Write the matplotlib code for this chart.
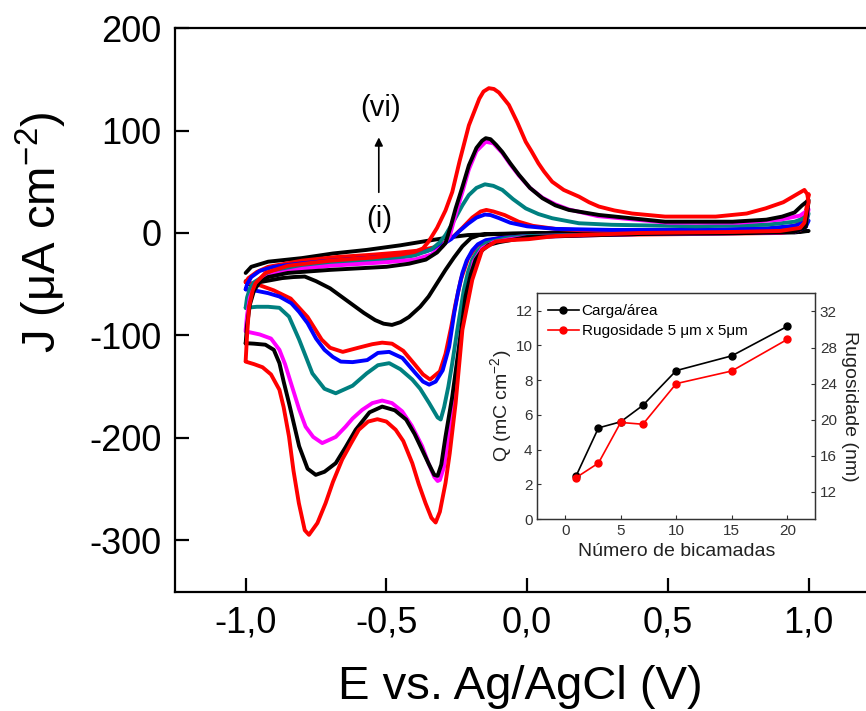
import numpy as np
import matplotlib
matplotlib.use("Agg")
import matplotlib.pyplot as plt

plt.rcParams['font.family'] = ['Liberation Sans', 'DejaVu Sans']
plt.rcParams['mathtext.fontset'] = 'custom'
plt.rcParams['mathtext.rm'] = 'Liberation Sans'
plt.rcParams['mathtext.it'] = 'Liberation Sans:italic'
plt.rcParams['mathtext.default'] = 'regular'
plt.rcParams['axes.unicode_minus'] = False

# --- voltametrias (E em V, J em uA cm-2), ramo anodico + catodico ---
# (i) preto pequeno
e_i = [-1.0, -0.98, -0.92, -0.8, -0.69, -0.57, -0.45, -0.34, -0.27, -0.21, -0.1, 0.2, 0.6, 0.9, 1.0,
       0.95, 0.6, 0.2, -0.05, -0.14, -0.17, -0.2, -0.23, -0.26, -0.29, -0.32, -0.35, -0.38, -0.42,
       -0.45, -0.48, -0.51, -0.54, -0.58, -0.61, -0.65, -0.7, -0.75, -0.79, -0.83, -0.87, -0.94, -0.99, -1.0]
j_i = [-39, -33, -28, -24.5, -20, -16.5, -12, -7, -4, -2, -1, 0, 0, 1, 2,
       0.5, 0, 0, -0.5, -1, -2, -5, -13, -24, -36, -49, -62, -72, -82,
       -87, -89.7, -88.5, -85, -78, -72, -64, -54, -47, -42.5, -43, -44, -47.5, -50, -47]

# (ii) vermelho pequeno
e_ii = [-1.0, -0.99, -0.96, -0.92, -0.8, -0.68, -0.56, -0.45, -0.38, -0.33, -0.29, -0.26, -0.23, -0.195,
        -0.165, -0.145, -0.12, -0.08, -0.03, 0.02, 0.1, 0.2, 0.4, 0.7, 0.9, 0.96, 0.99, 1.0,
        0.99, 0.97, 0.9, 0.6, 0.2, 0.0, -0.1, -0.15, -0.18, -0.21, -0.235, -0.255, -0.27, -0.29, -0.31,
        -0.345, -0.37, -0.4, -0.44, -0.48, -0.515, -0.55, -0.6, -0.655, -0.7, -0.73, -0.78, -0.84, -0.9, -0.95, -1.0]
j_ii = [-48, -44, -38, -33, -27, -23.5, -21.4, -19, -17, -14, -9, -3, 5, 15,
        21, 22.5, 21, 17.5, 11, 7, 4, 2.5, 2, 2, 4, 8, 20, 38,
        15, 3, 0, -1, -2, -3, -5, -8, -13, -25, -45, -70, -92, -118, -135,
        -143, -138, -128, -115, -108, -107, -108.5, -112, -116, -112, -104, -82, -64, -56, -51, -48]

# (iii) azul
e_iii = [-1.0, -0.995, -0.98, -0.95, -0.9, -0.8, -0.7, -0.6, -0.5, -0.42, -0.36, -0.31, -0.27, -0.24, -0.21,
         -0.18, -0.15, -0.13, -0.1, -0.06, 0.0, 0.1, 0.3, 0.6, 0.85, 0.95, 1.0,
         0.99, 0.95, 0.8, 0.4, 0.0, -0.1, -0.147, -0.175, -0.195, -0.215, -0.23, -0.245, -0.259, -0.277,
         -0.3, -0.325, -0.348, -0.37, -0.396, -0.443, -0.49, -0.53, -0.568, -0.62, -0.662, -0.69, -0.72,
         -0.75, -0.78, -0.81, -0.838, -0.88, -0.92, -0.96, -1.0]
j_iii = [-55, -50, -43, -37, -33, -29.5, -27, -25, -23, -21, -18, -13, -6, 2, 9,
         15, 18, 17.5, 14.5, 10, 6.5, 4, 3, 3, 4.5, 7, 12,
         6, 1, 0, -1, -3, -5, -7, -11, -17, -27, -39, -57, -78, -111,
         -134, -145, -148, -145, -137, -122, -116, -117, -124, -126, -125.5, -121, -114,
         -103, -88, -77, -68.5, -62, -58.7, -56.5, -55]

# (iv) verde-azulado
e_iv = [-1.0, -0.995, -0.985, -0.97, -0.93, -0.85, -0.7, -0.5, -0.4, -0.34, -0.31, -0.29, -0.26, -0.23,
        -0.207, -0.18, -0.15, -0.12, -0.088, -0.05, -0.005, 0.04, 0.089, 0.184, 0.3, 0.6, 0.85, 0.95, 0.98, 1.0,
        0.99, 0.95, 0.8, 0.4, 0.0, -0.076, -0.147, -0.175, -0.195, -0.21, -0.225, -0.248, -0.266, -0.28,
        -0.295, -0.307, -0.318, -0.348, -0.38, -0.408, -0.45, -0.49, -0.53, -0.57, -0.62, -0.68, -0.72,
        -0.763, -0.79, -0.81, -0.846, -0.88, -0.92, -0.96, -1.0]
j_iv = [-73, -63, -54, -48, -41, -35, -30, -26, -22, -16, -9, -2, 12, 27,
        37, 44, 47.5, 46, 42, 33, 24, 18.5, 14.4, 9.5, 8, 6.5, 8, 11, 14, 19,
        8, 2, 0, -1, -3, -5, -10, -17, -26, -38, -55.5, -94.5, -127, -150,
        -170, -182, -180, -166, -152, -143, -133, -127, -129, -137, -149, -156.4, -152,
        -137, -118, -104, -81.6, -73, -72, -72, -73]

# (v) magenta
e_v = [-1.0, -0.995, -0.985, -0.97, -0.94, -0.9, -0.8, -0.7, -0.5, -0.4, -0.34, -0.3, -0.275, -0.254,
       -0.23, -0.207, -0.18, -0.147, -0.12, -0.088, -0.06, -0.029, 0.01, 0.054, 0.1, 0.148, 0.25, 0.5,
       0.75, 0.9, 0.97, 1.0,
       0.99, 0.95, 0.8, 0.4, 0.0, -0.06, -0.12, -0.16, -0.19, -0.215, -0.24, -0.262, -0.28, -0.295,
       -0.31, -0.318, -0.33, -0.35, -0.373, -0.41, -0.444, -0.48, -0.515, -0.55, -0.586, -0.62, -0.645,
       -0.68, -0.728, -0.76, -0.787, -0.81, -0.835, -0.86, -0.88, -0.91, -0.95, -1.0]
j_v = [-95, -80, -63, -53, -45, -40, -35, -32, -28.5, -26, -21, -13, -3, 18,
       40, 62, 80, 89, 87.5, 78, 67, 56, 44, 34.5, 28, 23, 16.5, 10,
       10, 13, 17, 23,
       10, 1, 0, -1, -4, -6, -9, -15, -28, -60, -108, -158, -200, -228,
       -241, -242, -238, -225, -208, -188, -174, -166, -163.5, -166, -172.6, -181, -189,
       -199, -205, -199, -189, -172, -150, -128, -114, -103, -99, -96]

# (vi) preto grande
e_vi = [-1.0, -0.995, -0.985, -0.97, -0.95, -0.92, -0.85, -0.7, -0.5, -0.42, -0.36, -0.32, -0.29, -0.27,
        -0.254, -0.23, -0.207, -0.18, -0.16, -0.147, -0.13, -0.11, -0.088, -0.06, -0.029, 0.01, 0.054, 0.1,
        0.148, 0.255, 0.49, 0.73, 0.85, 0.906, 0.95, 0.977, 1.0,
        0.99, 0.95, 0.8, 0.4, 0.0, -0.053, -0.1, -0.136, -0.16, -0.183, -0.2, -0.219, -0.242, -0.266,
        -0.29, -0.305, -0.318, -0.33, -0.35, -0.373, -0.4, -0.43, -0.47, -0.515, -0.56, -0.609, -0.645,
        -0.68, -0.72, -0.751, -0.78, -0.81, -0.846, -0.865, -0.88, -0.9, -0.93, -0.97, -1.0]
j_vi = [-108, -90, -70, -56, -48, -43, -39, -36, -33, -30, -26, -19, -10, 8,
        24, 45, 66, 83, 90, 92.5, 91.5, 86, 79, 68, 56.7, 44, 34, 27,
        22.5, 17.6, 11, 11, 13, 16, 20, 27, 32,
        6, 1, 0, -1, -4, -6.7, -9, -11.6, -17, -26, -40, -62, -111, -159.6,
        -198.6, -226, -237, -236, -225, -211.6, -196, -182, -173, -169.4, -175, -192, -209,
        -224.6, -233, -236, -230, -208, -166, -145, -127, -114, -109, -108, -107.5]

# (vii) vermelho grande
e_vii = [-1.0, -0.995, -0.988, -0.975, -0.965, -0.93, -0.85, -0.7, -0.55, -0.45, -0.4, -0.37, -0.35, -0.32,
         -0.29, -0.266, -0.24, -0.207, -0.17, -0.155, -0.136, -0.118, -0.1, -0.065, -0.035, -0.005, 0.015,
         0.04, 0.06, 0.089, 0.13, 0.184, 0.22, 0.255, 0.31, 0.373, 0.49, 0.67, 0.78, 0.847, 0.91, 0.966,
         0.985, 0.995, 1.0,
         0.995, 0.985, 0.97, 0.9, 0.73, 0.4, 0.1, 0.006, -0.06, -0.112, -0.16, -0.195, -0.23, -0.254,
         -0.275, -0.29, -0.31, -0.325, -0.34, -0.361, -0.385, -0.408, -0.44, -0.467, -0.5, -0.532, -0.565,
         -0.598, -0.625, -0.657, -0.69, -0.716, -0.745, -0.775, -0.79, -0.811, -0.83, -0.846, -0.865, -0.88,
         -0.91, -0.94, -0.97, -1.0]
j_vii = [-125, -100, -72, -56, -49, -39, -32, -27, -24, -21, -18.5, -15, -8.4, 5,
         22, 40, 70, 105, 131, 138, 141.3, 140.5, 137, 125, 108, 89, 80,
         68, 60, 50, 42, 35.5, 30, 25.8, 22, 19, 16, 16, 19, 24, 30, 39,
         42, 38, 30,
         25, 10, 5, 2, 1, 0, -3, -6, -7, -8.4, -16.5, -45.8, -94.5, -166,
         -215, -244, -272, -282.5, -278, -263.6, -245, -224.6, -203, -192, -184, -181.7, -184,
         -192, -205, -221, -243, -263.6, -283, -294.5, -290, -263.6, -232, -198.6, -170, -153,
         -138, -131, -128, -125.5]

curves = [(e_i, j_i, 'black'), (e_ii, j_ii, 'red'), (e_iii, j_iii, 'blue'),
          (e_iv, j_iv, '#008080'), (e_v, j_v, '#ff00ff'), (e_vi, j_vi, 'black'),
          (e_vii, j_vii, 'red')]

# --- inset ---
bicamadas = [1, 3, 5, 7, 10, 15, 20]
carga = [2.5, 5.25, 5.6, 6.55, 8.55, 9.4, 11.1]
rugosidade = [13.6, 15.2, 19.7, 19.5, 24.0, 25.4, 28.9]

fig = plt.figure(figsize=(8.66, 7.11), dpi=100)
ax = fig.add_axes([0.2024, 0.1678, 0.8126, 0.7928])

for e, j, c in curves:
    ax.plot(e, j, color=c, lw=2.8, solid_joinstyle='round', solid_capstyle='round')

ax.set_xlim(-1.25, 1.25)
ax.set_ylim(-350, 200)
ax.set_xticks([-1.0, -0.5, 0.0, 0.5, 1.0])
ax.set_xticklabels(['-1,0', '-0,5', '0,0', '0,5', '1,0'])
ax.set_yticks([-300, -200, -100, 0, 100, 200])
ax.tick_params(direction='in', length=10, width=1.6, labelsize=26, pad=10,
               top=False, right=False)
for s in ax.spines.values():
    s.set_linewidth(1.6)

ax.set_xlabel('E vs. Ag/AgCl (V)', fontsize=34, va='top')
ax.xaxis.set_label_coords(0.49, -0.13)
ax.set_ylabel('J (μA cm$^{-2}$)', fontsize=34, va='center')
ax.yaxis.set_label_coords(-0.19, 0.638)

# seta (i) -> (vi)
ax.annotate('', xy=(-0.527, 96), xytext=(-0.527, 37),
            arrowprops=dict(arrowstyle='-|>', color='black', lw=1.2, mutation_scale=12))
ax.text(-0.519, 122, '(vi)', fontsize=21, ha='center', va='center')
ax.text(-0.526, 14, '(i)', fontsize=21, ha='center', va='center')

# inset
axi = fig.add_axes([0.6205, 0.270, 0.3207, 0.3174])
axr = axi.twinx()
l1, = axi.plot(bicamadas, carga, '-o', color='black', lw=1.2, ms=5, label='Carga/área')
l2, = axr.plot(bicamadas, rugosidade, '-o', color='red', lw=1.2, ms=5,
               label='Rugosidade 5 μm x 5μm')
axi.set_xlim(-2.5, 22.5)
axi.set_ylim(0, 13)
axr.set_ylim(9, 34)
axi.set_xticks([0, 5, 10, 15, 20])
axi.set_yticks([0, 2, 4, 6, 8, 10, 12])
axr.set_yticks([12, 16, 20, 24, 28, 32])
for a in (axi, axr):
    a.tick_params(direction='in', length=3, width=0.8, labelsize=11, colors='#333333')
    for s in a.spines.values():
        s.set_linewidth(0.9)
        s.set_color('#333333')
axi.set_xlabel('Número de bicamadas', fontsize=14, color='#222222', labelpad=4)
axi.set_ylabel('Q (mC cm$^{-2}$)', fontsize=14, color='#222222', labelpad=1)
axr.set_ylabel('Rugosidade (nm)', fontsize=14, color='#222222', rotation=270, labelpad=15)
axi.legend(handles=[l1, l2], loc='upper left', frameon=False, fontsize=11,
           handlelength=2.0, handletextpad=0.2, borderaxespad=0.3, labelspacing=0.4)

fig.savefig('out.png', dpi=100)
